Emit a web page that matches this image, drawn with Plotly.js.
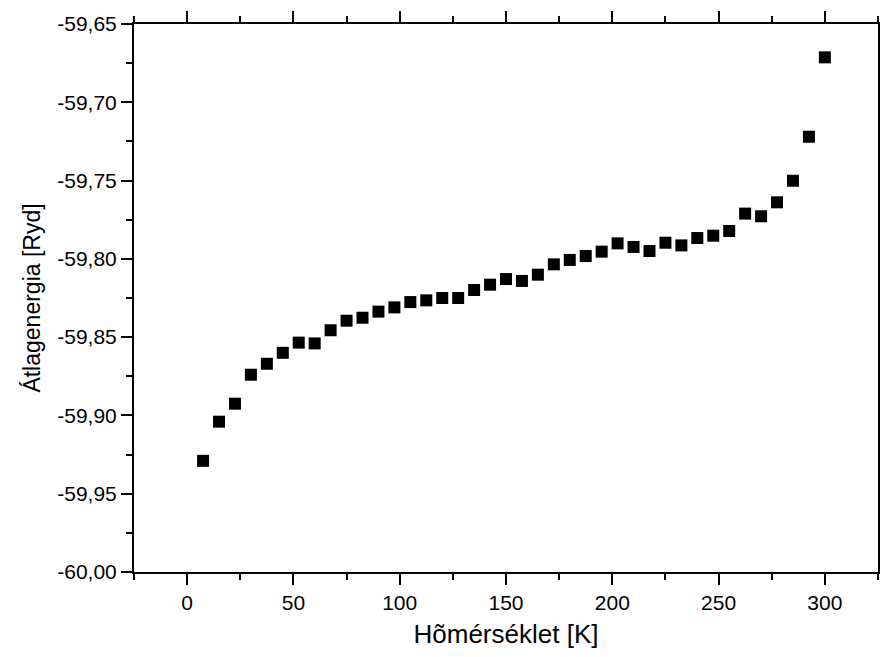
<!DOCTYPE html>
<html>
<head>
<meta charset="utf-8">
<script src="https://cdn.plot.ly/plotly-3.0.1.min.js"></script>
<style>html,body{margin:0;padding:0;background:#fff;}#chart{width:880px;height:657px;}</style>
</head>
<body>
<div id="chart"></div>
<script>
// Temperature [K]
const temperature = [7.5, 15, 22.5, 30, 37.5, 45, 52.5, 60, 67.5, 75,
  82.5, 90, 97.5, 105, 112.5, 120, 127.5, 135, 142.5, 150,
  157.5, 165, 172.5, 180, 187.5, 195, 202.5, 210, 217.5, 225,
  232.5, 240, 247.5, 255, 262.5, 270, 277.5, 285, 292.5, 300];
// Average energy [Ryd]
const energy = [-59.929, -59.904, -59.8925, -59.874, -59.867, -59.860, -59.8535, -59.854, -59.8456, -59.8395,
  -59.8376, -59.8337, -59.831, -59.8276, -59.8265, -59.825, -59.825, -59.8199, -59.8165, -59.8129,
  -59.8141, -59.8101, -59.8035, -59.8007, -59.7982, -59.7954, -59.7901, -59.7924, -59.795, -59.7897,
  -59.7914, -59.7867, -59.7852, -59.7822, -59.7711, -59.7728, -59.7639, -59.7501, -59.722, -59.6713];

// Tick values and labels
const xTickVals = [0, 50, 100, 150, 200, 250, 300];
const xTickText = ['0', '50', '100', '150', '200', '250', '300'];
const yTickVals = [-60.00, -59.95, -59.90, -59.85, -59.80, -59.75, -59.70, -59.65];
const yTickText = ['-60,00', '-59,95', '-59,90', '-59,85', '-59,80', '-59,75', '-59,70', '-59,65'];

const xTitle = 'Hõmérséklet [K]';
const yTitle = 'Átlagenergia [Ryd]';

const FONT = 'Arial, "Liberation Sans", sans-serif';

const trace = {
  x: temperature,
  y: energy,
  type: 'scatter',
  mode: 'markers',
  marker: {symbol: 'square', size: 12, color: '#000000', line: {width: 0}},
  hoverinfo: 'x+y'
};

const axisCommon = {
  showgrid: false,
  zeroline: false,
  showline: true,
  linecolor: '#000',
  linewidth: 2,
  mirror: 'allticks',
  ticks: 'outside',
  ticklen: 11,
  tickwidth: 2,
  tickcolor: '#000',
  tickmode: 'array',
  tickfont: {family: FONT, size: 21, color: '#000'}
};

const layout = {
  width: 880,
  height: 657,
  margin: {l: 134, r: 2, t: 24, b: 85},
  paper_bgcolor: '#fff',
  plot_bgcolor: '#fff',
  showlegend: false,
  font: {family: FONT, color: '#000'},
  xaxis: Object.assign({}, axisCommon, {
    range: [-25, 325],
    tickvals: xTickVals,
    ticktext: xTickText,
    automargin: false,
    minor: {tick0: 0, dtick: 25, ticks: 'outside', ticklen: 6, tickwidth: 2, tickcolor: '#000', showgrid: false},
    title: {text: xTitle, font: {family: FONT, size: 26, color: '#000'}, standoff: 12}
  }),
  yaxis: Object.assign({}, axisCommon, {
    range: [-60.0, -59.65],
    tickvals: yTickVals,
    ticktext: yTickText,
    automargin: false,
    minor: {tick0: -60, dtick: 0.025, ticks: 'outside', ticklen: 6, tickwidth: 2, tickcolor: '#000', showgrid: false},
    title: {text: yTitle, font: {family: FONT, size: 23, color: '#000'}, standoff: 10}
  })
};

Plotly.newPlot('chart', [trace], layout, {displayModeBar: false, staticPlot: true});
</script>
</body>
</html>
